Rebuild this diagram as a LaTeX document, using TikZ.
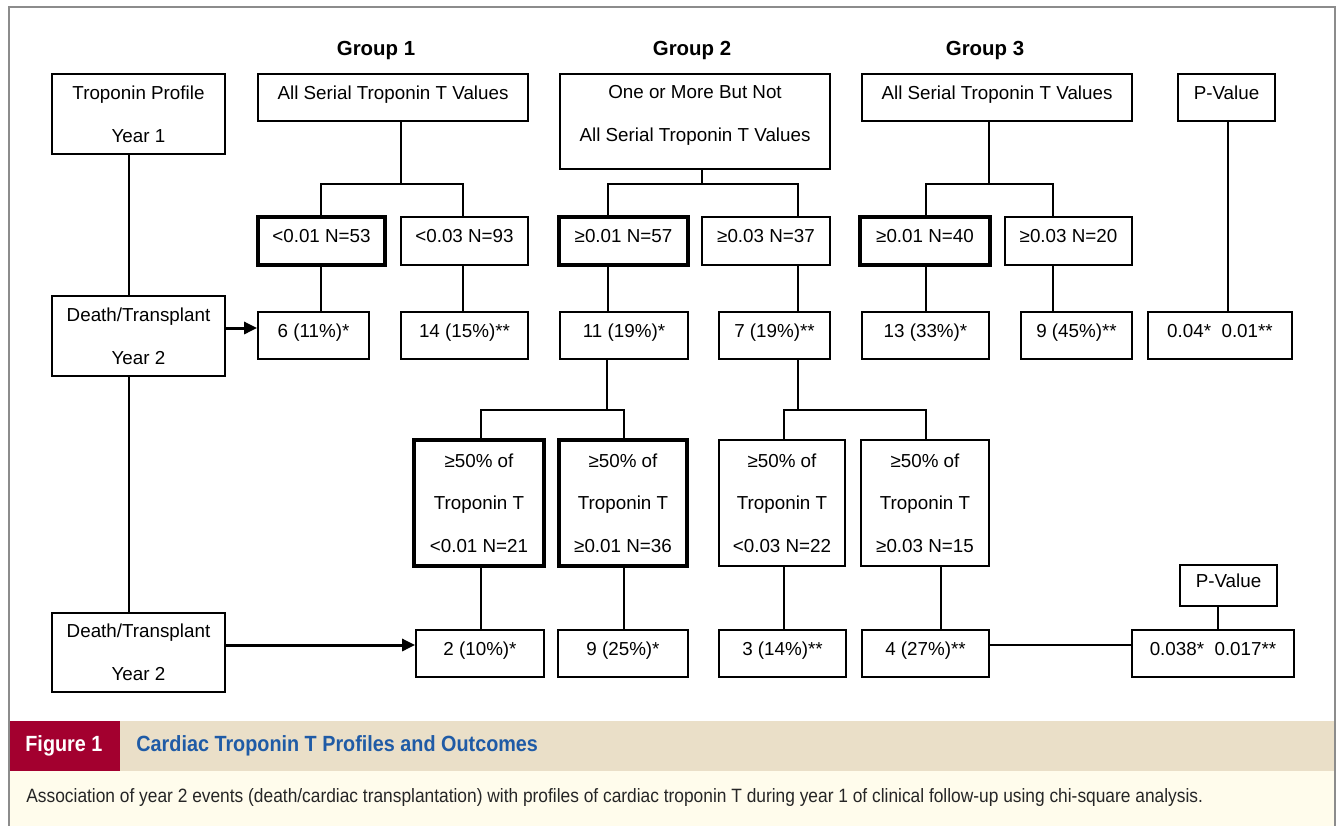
\documentclass[tikz,border=0pt]{standalone}
\usepackage{fontspec}
\setmainfont{Liberation Sans}
\newfontfamily\capfont[FakeStretch=0.9]{Liberation Sans}
\usepackage{tikz}
\usetikzlibrary{arrows.meta}
\definecolor{capred}{HTML}{A3002F}
\definecolor{capblue}{HTML}{1F5BA6}
\definecolor{capbeige}{HTML}{EADFC8}
\definecolor{capcream}{HTML}{FFFCEC}
\definecolor{framegray}{HTML}{8C8C8C}

\begin{document}
\begin{tikzpicture}[x=0.5pt, y=-0.5pt,
      box/.style={rectangle, draw, line width=0.9pt, inner sep=1pt,
                  font=\fontsize{9.4}{21.3}\selectfont},
      one/.style={box, text height=7pt, text depth=5.2pt},
      multi/.style={box, align=center},
      heavy/.style={line width=2.2pt},
      grp/.style={font=\fontsize{10.2}{12}\selectfont\bfseries},
      conn/.style={line width=0.9pt},
      arr/.style={-{Triangle[length=6.5pt,width=6pt]}, line width=1.5pt},
      capt/.style={anchor=west, inner sep=0pt}
    ]
      \useasboundingbox (0,0) rectangle (1341,826);
      \fill[capbeige] (9,721) rectangle (1335,771);
      \fill[capred] (9,721) rectangle (120,771);
      \fill[capcream] (9,771) rectangle (1335,826);
      \draw[framegray, line width=1pt] (8.5,826) -- (8.5,7) -- (1335,7) -- (1335,826);

      \node[capt, text=white, font=\capfont\fontsize{11}{13}\selectfont\bfseries] (fignum) at (25,746) {Figure 1};
      \node[capt, text=capblue, font=\capfont\fontsize{11}{13}\selectfont\bfseries] (figtitle) at (136,746) {Cardiac Troponin T Profiles and Outcomes};
      \node[capt, text=black!85, font=\capfont\fontsize{9.64}{11}\selectfont] (figtext) at (26,798) {Association of year 2 events (death/cardiac transplantation) with profiles of cardiac troponin T during year 1 of clinical follow-up using chi-square analysis.};

      \node[grp] (g1lab) at (376,50) {Group 1};
      \node[grp] (g2lab) at (692,50) {Group 2};
      \node[grp] (g3lab) at (985,50) {Group 3};

      \node[multi, minimum width=86.5pt, minimum height=40pt] (prof) at (138.5,114) {Troponin Profile\\Year 1};
      \node[one, minimum width=135pt, minimum height=23.5pt] (g1all) at (393,97.5) {All Serial Troponin T Values};
      \node[multi, minimum width=135pt, minimum height=47.5pt] (g2all) at (695,121.5) {One or More But Not\\All Serial Troponin T Values\\[-13pt]\mbox{}};
      \node[one, minimum width=135pt, minimum height=23.5pt] (g3all) at (997,97.5) {All Serial Troponin T Values};
      \node[one, minimum width=48.5pt, minimum height=23.5pt] (pv1) at (1226.5,97.5) {P-Value};

      \node[one, heavy, minimum width=63.5pt, minimum height=24pt] (n53) at (321.5,241) {<0.01 N=53};
      \node[one, minimum width=63.5pt, minimum height=24pt] (n93) at (464.5,241) {<0.03 N=93};
      \node[one, heavy, minimum width=64.5pt, minimum height=24pt] (n57) at (623.5,241) {≥0.01 N=57};
      \node[one, minimum width=64pt, minimum height=24pt] (n37) at (766,241) {≥0.03 N=37};
      \node[one, heavy, minimum width=65pt, minimum height=24pt] (n40) at (925,241) {≥0.01 N=40};
      \node[one, minimum width=63.5pt, minimum height=24pt] (n20) at (1068.5,241) {≥0.03 N=20};

      \node[multi, minimum width=86.5pt, minimum height=40pt] (death1) at (138.5,336) {Death/Transplant\\Year 2};
      \node[one, minimum width=55.5pt, minimum height=23.5pt] (r6) at (313.5,335.5) {6 (11\%)*};
      \node[one, minimum width=63.5pt, minimum height=23.5pt] (r14) at (464.5,335.5) {14 (15\%)**};
      \node[one, minimum width=64pt, minimum height=23.5pt] (r11) at (624,335.5) {11 (19\%)*};
      \node[one, minimum width=55.5pt, minimum height=23.5pt] (r7) at (774.5,335.5) {7 (19\%)**};
      \node[one, minimum width=63.5pt, minimum height=23.5pt] (r13) at (925.5,335.5) {13 (33\%)*};
      \node[one, minimum width=55.5pt, minimum height=23.5pt] (r9) at (1076.5,335.5) {9 (45\%)**};
      \node[one, minimum width=72pt, minimum height=23.5pt] (p1) at (1220,335.5) {0.04*\ \ 0.01**};

      \node[multi, heavy, minimum width=65pt, minimum height=63pt] (a1) at (479,503) {≥50\% of\\Troponin T\\<0.01 N=21};
      \node[multi, heavy, minimum width=64pt, minimum height=63pt] (a2) at (623,503) {≥50\% of\\Troponin T\\≥0.01 N=36};
      \node[multi, minimum width=63pt, minimum height=63pt] (a3) at (782,503) {≥50\% of\\Troponin T\\<0.03 N=22};
      \node[multi, minimum width=64pt, minimum height=63pt] (a4) at (925,503) {≥50\% of\\Troponin T\\≥0.03 N=15};

      \node[multi, minimum width=86.5pt, minimum height=39.5pt] (death2) at (138.5,652.5) {Death/Transplant\\Year 2};
      \node[one, minimum width=64pt, minimum height=23.5pt] (e2) at (480,653.5) {2 (10\%)*};
      \node[one, minimum width=65pt, minimum height=23.5pt] (e9) at (623,653.5) {9 (25\%)*};
      \node[one, minimum width=63.5pt, minimum height=23.5pt] (e3) at (782.5,653.5) {3 (14\%)**};
      \node[one, minimum width=63.5pt, minimum height=23.5pt] (e4) at (925.5,653.5) {4 (27\%)**};
      \node[one, minimum width=48.5pt, minimum height=20.5pt] (pv2) at (1228.5,585.5) {P-Value};
      \node[one, minimum width=81pt, minimum height=23.5pt] (p2) at (1213,653.5) {0.038*\ \ 0.017**};

      \coordinate (sp) at (129,200);
      \coordinate (t1) at (401,184);
      \coordinate (c1a) at (321,184);
      \coordinate (c1b) at (463,184);
      \coordinate (t2) at (702,184);
      \coordinate (c2a) at (608,184);
      \coordinate (c2b) at (798,184);
      \coordinate (t3) at (989,184);
      \coordinate (c3a) at (926,184);
      \coordinate (c3b) at (1053,184);
      \coordinate (c4) at (1228,200);
      \coordinate (t5) at (607,410);
      \coordinate (c5a) at (481,410);
      \coordinate (c5b) at (624,410);
      \coordinate (t6) at (798,410);
      \coordinate (c6a) at (784,410);
      \coordinate (c6b) at (926,410);
      \coordinate (d4) at (941,600);
      \coordinate (d5) at (1218,600);
      \coordinate (h1) at (0,328);
      \coordinate (h2) at (0,645);

      \draw[conn] (prof.south -| sp) -- (death1.north -| sp);
      \draw[conn] (death1.south -| sp) -- (death2.north -| sp);

      \draw[conn] (g1all.south -| t1) -- (t1);
      \draw[conn] (n53.north -| c1a) -- (c1a) -- (c1b) -- (n93.north -| c1b);
      \draw[conn] (n53.south -| c1a) -- (r6.north -| c1a);
      \draw[conn] (n93.south -| c1b) -- (r14.north -| c1b);

      \draw[conn] (g2all.south -| t2) -- (t2);
      \draw[conn] (n57.north -| c2a) -- (c2a) -- (c2b) -- (n37.north -| c2b);
      \draw[conn] (n57.south -| c2a) -- (r11.north -| c2a);
      \draw[conn] (n37.south -| c2b) -- (r7.north -| c2b);

      \draw[conn] (g3all.south -| t3) -- (t3);
      \draw[conn] (n40.north -| c3a) -- (c3a) -- (c3b) -- (n20.north -| c3b);
      \draw[conn] (n40.south -| c3a) -- (r13.north -| c3a);
      \draw[conn] (n20.south -| c3b) -- (r9.north -| c3b);

      \draw[conn] (pv1.south -| c4) -- (p1.north -| c4);

      \draw[conn] (r11.south -| t5) -- (t5);
      \draw[conn] (a1.north -| c5a) -- (c5a) -- (c5b) -- (a2.north -| c5b);
      \draw[conn] (r7.south -| t6) -- (t6);
      \draw[conn] (a3.north -| c6a) -- (c6a) -- (c6b) -- (a4.north -| c6b);

      \draw[conn] (a1.south -| c5a) -- (e2.north -| c5a);
      \draw[conn] (a2.south -| c5b) -- (e9.north -| c5b);
      \draw[conn] (a3.south -| c6a) -- (e3.north -| c6a);
      \draw[conn] (a4.south -| d4) -- (e4.north -| d4);
      \draw[conn] (pv2.south -| d5) -- (p2.north -| d5);

      \draw[arr] (death1.east |- h1) -- (r6.west |- h1);
      \draw[arr] (death2.east |- h2) -- (e2.west |- h2);
      \draw[conn] (e4.east |- h2) -- (p2.west |- h2);
    \end{tikzpicture}
\end{document}
